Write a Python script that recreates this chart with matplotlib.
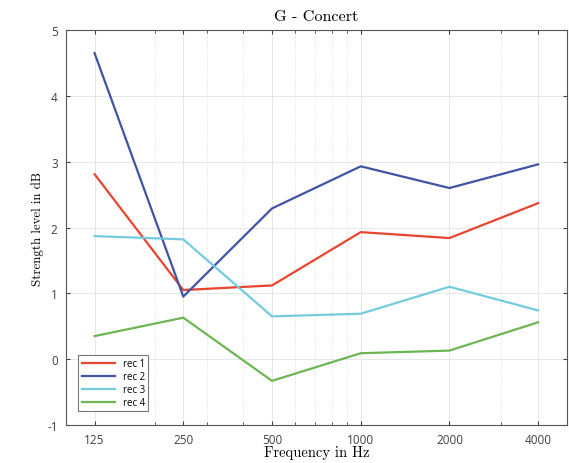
import numpy as np
import matplotlib
matplotlib.use('Agg')
import matplotlib.pyplot as plt
from matplotlib.ticker import FixedLocator, NullFormatter, LogLocator

plt.rcParams['axes.unicode_minus'] = False

freqs = [125, 250, 500, 1000, 2000, 4000]
freq_labels = ['125', '250', '500', '1000', '2000', '4000']
rec1 = [2.81, 1.05, 1.12, 1.93, 1.84, 2.37]
rec2 = [4.65, 0.95, 2.29, 2.93, 2.60, 2.96]
rec3 = [1.87, 1.82, 0.65, 0.69, 1.10, 0.74]
rec4 = [0.35, 0.63, -0.33, 0.09, 0.13, 0.56]
series_names = ['rec 1', 'rec 2', 'rec 3', 'rec 4']
colors = ['#e8452f', '#3f54a5', '#74cbe0', '#6cb654']

fig = plt.figure(figsize=(5.69, 4.64), dpi=100)
ax = fig.add_axes([0.116, 0.082, 0.880, 0.851])

for vals, name, c in zip([rec1, rec2, rec3, rec4], series_names, colors):
    ax.plot(freqs, vals, color=c, lw=1.6, label=name)

ax.set_xscale('log')
ax.set_xlim(100, 5000)
ax.set_ylim(-1, 5)
ax.xaxis.set_major_locator(FixedLocator(freqs))
ax.set_xticklabels(freq_labels)
ax.xaxis.set_minor_locator(LogLocator(base=10, subs=np.arange(2, 10)))
ax.xaxis.set_minor_formatter(NullFormatter())
ax.set_yticks(range(-1, 6))

ax.grid(True, which='major', color='#e6e6e6', lw=0.7)
ax.grid(True, which='minor', axis='x', color='#d8d8d8', lw=0.6, ls=':')
ax.set_axisbelow(True)

ax.tick_params(which='both', direction='in', top=True, right=True,
               labelsize=8.5, colors='#404040', length=3)
ax.tick_params(axis='x', which='major', pad=6)
ax.tick_params(axis='y', which='major', pad=6)
ax.tick_params(which='minor', length=2)
for lab in ax.get_xticklabels() + ax.get_yticklabels():
    lab.set_fontfamily('Open Sans')
for s in ax.spines.values():
    s.set_color('#555555')
    s.set_linewidth(0.8)

serif = 'cmr10'
ax.set_title('G - Concert', fontfamily=serif, fontsize=11.7, pad=7)
ax.set_xlabel('Frequency in Hz', fontfamily=serif, fontsize=10.5, labelpad=-1)
ax.set_ylabel('Strength level in dB', fontfamily=serif, fontsize=9.3, labelpad=2)

leg = ax.legend(loc='lower left', bbox_to_anchor=(0.015, 0.022),
                fancybox=False, edgecolor='#777777', framealpha=1,
                handlelength=3.4, borderpad=0.35, labelspacing=0.2,
                prop={'family': 'Open Sans', 'size': 7})
leg.get_frame().set_linewidth(0.8)

fig.savefig('out.png', dpi=100)
